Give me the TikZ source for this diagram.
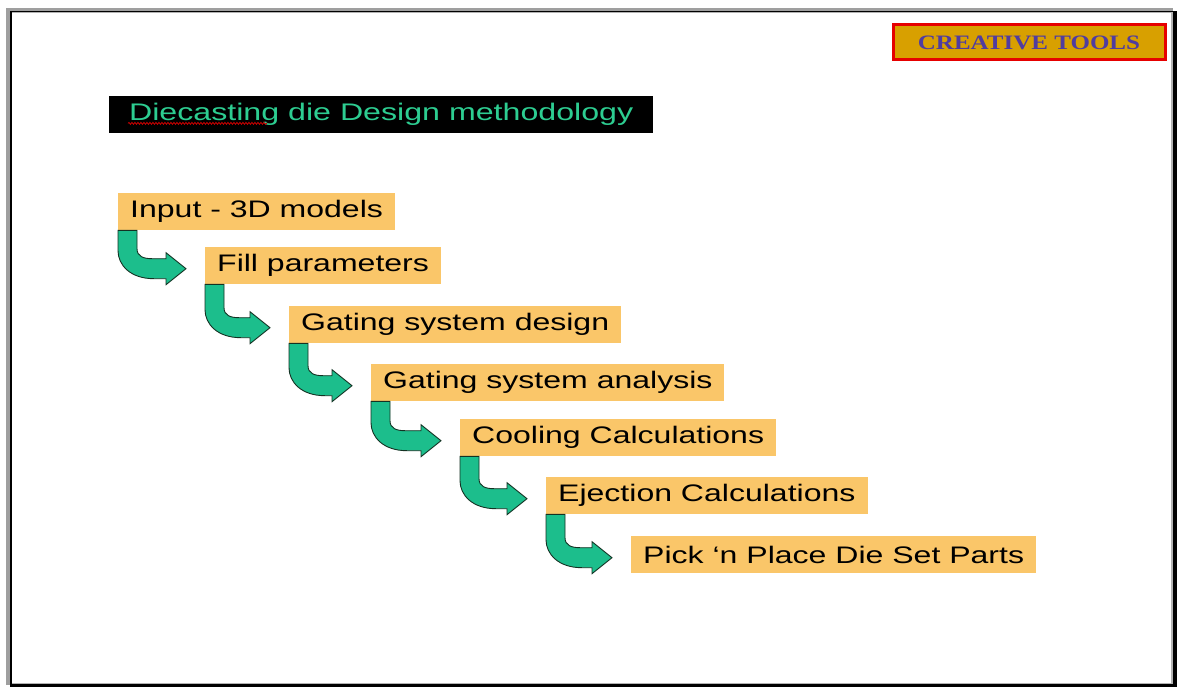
\documentclass[tikz,border=0pt]{standalone}
\usepackage{fontspec}
\usetikzlibrary{calc,decorations.pathmorphing}
\newfontfamily\stepfont[FakeStretch=1.34]{Liberation Sans}
\newfontfamily\tagfont[FakeStretch=1.22]{Liberation Serif}
\definecolor{stepfill}{RGB}{250,198,105}
\definecolor{arrowfill}{RGB}{28,190,140}
\definecolor{arrowline}{RGB}{20,50,35}
\definecolor{titlegreen}{RGB}{45,205,145}
\definecolor{taggold}{RGB}{216,160,0}
\definecolor{tagred}{RGB}{230,0,0}
\definecolor{tagblue}{RGB}{80,60,160}
\tikzset{
x=1pt, y=-1pt,
stepbox/.style={fill=stepfill, anchor=north west, minimum height=37pt,
  inner xsep=12pt, inner ysep=0pt, font=\stepfont\fontsize{23.9}{28}\selectfont},
titlebox/.style={fill=black, text=titlegreen, anchor=north west, minimum width=544pt,
  minimum height=37pt, inner sep=0pt, font=\stepfont\fontsize{24}{28}\selectfont},
tagbox/.style={fill=taggold, draw=tagred, line width=3pt, text=tagblue, anchor=north west,
  minimum width=272pt, minimum height=35pt, inner sep=0pt,
  font=\tagfont\bfseries\fontsize{20.5}{22}\selectfont},
bent/.style={fill=arrowfill, draw=arrowline, line width=0.9pt, line join=miter},
}
% green bent arrow from below one step to the left of the next
\newcommand\bentarrow[2]{%
  \draw[bent] let \p1=(#1.south west), \p2=($(#2.west)+(-19,3)$) in
    (\x1,\y1) -- (\x1+19pt,\y1) -- (\x1+19pt,\y2+20pt)
    .. controls (\x1+19pt,\y2+12pt) and (\x1+26pt,\y2+10pt) .. (\x1+34pt,\y2+10pt)
    -- (\x2-20pt,\y2+10pt) -- (\x2-20pt,\y2+16pt) -- (\x2,\y2)
    -- (\x2-20pt,\y2-16pt) -- (\x2-20pt,\y2-10pt) -- (\x1+36pt,\y2-10pt)
    .. controls (\x1+12pt,\y2-10pt) and (\x1,\y2+4pt) .. (\x1,\y2+18pt) -- cycle;}

\begin{document}
\begin{tikzpicture}
    % page frame
    \fill[white] (0,0) rectangle (1177,687);
    \fill[gray!75] (6,8) rectangle (1173,685);
    \fill[black] (10,11) rectangle (1177,687);
    \fill[gray!60] (12,12) rectangle (1173,684);
    \fill[white] (12,13) rectangle (1171,683);

    \node[tagbox] (tag) at (891.5,23.5) {CREATIVE TOOLS};
    \node[titlebox] (title) at (109,96) {Diecasting die Design methodology};
    \draw[red!80!black, line width=0.8pt, decorate, decoration={snake, amplitude=1pt, segment length=3pt}]
        ($(title.south west)+(19,-10)$) -- ++(139,0);

    \node[stepbox] (s1) at (118,193) {Input - 3D models};
    \node[stepbox] (s2) at (205,247) {Fill parameters};
    \node[stepbox] (s3) at (289,306) {Gating system design};
    \node[stepbox] (s4) at (371,364) {Gating system analysis};
    \node[stepbox] (s5) at (460,419) {Cooling Calculations};
    \node[stepbox] (s6) at (546,477) {Ejection Calculations};
    \node[stepbox] (s7) at (631,536) {Pick ‘n Place Die Set Parts};

    \bentarrow{s1}{s2}
    \bentarrow{s2}{s3}
    \bentarrow{s3}{s4}
    \bentarrow{s4}{s5}
    \bentarrow{s5}{s6}
    \bentarrow{s6}{s7}

\end{tikzpicture}
\end{document}
